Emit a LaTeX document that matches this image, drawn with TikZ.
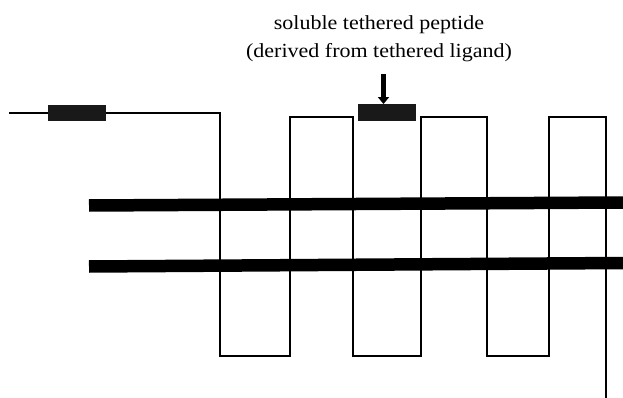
\documentclass[tikz,border=0pt]{standalone}
\usepackage{fontspec}
\setmainfont[FakeStretch=1.1]{Liberation Serif}
\usetikzlibrary{arrows.meta}
\begin{document}
\begin{tikzpicture}[x=1pt,y=-1pt,
  wave/.style={line width=2.6pt,line join=miter},
  band/.style={line width=12.5pt},
  blk/.style={draw=none,fill=black!90,minimum width=58pt,minimum height=16.5pt,inner sep=0pt},
  lbl/.style={font=\fontsize{20}{28}\selectfont,anchor=base,inner sep=0pt},
  pointer/.style={line width=4.5pt,-{Triangle[length=7pt,width=11pt]}}]
\useasboundingbox (0,0) rectangle (623,398);
% membrane bands
\coordinate (b1l) at (89,205.5);
\coordinate (b1r) at (623,202.5);
\coordinate (b2l) at (89,266.5);
\coordinate (b2r) at (623,263);
\draw[band] (b1l) -- (b1r);
\draw[band] (b2l) -- (b2r);
% receptor chain
\coordinate (start) at (9,113);
\coordinate (finish) at (606,398);
\draw[wave] (start) -- (220,113) -- (220,356) -- (290,356) -- (290,117)
  -- (353,117) -- (353,356) -- (421,356) -- (421,117) -- (487,117)
  -- (487,356) -- (549,356) -- (549,117) -- (606,117) -- (finish);
% blocks
\node[blk] (tl) at (77,113) {};
\node[blk] (pep) at (387,112.5) {};
% label
\node[lbl] (label1) at (379,30) {soluble tethered peptide};
\node[lbl] (label2) at (379,58) {(derived from tethered ligand)};
\coordinate (atop) at (383.5,74);
\draw[pointer] (atop) -- (pep.north -| atop);
\end{tikzpicture}
\end{document}
